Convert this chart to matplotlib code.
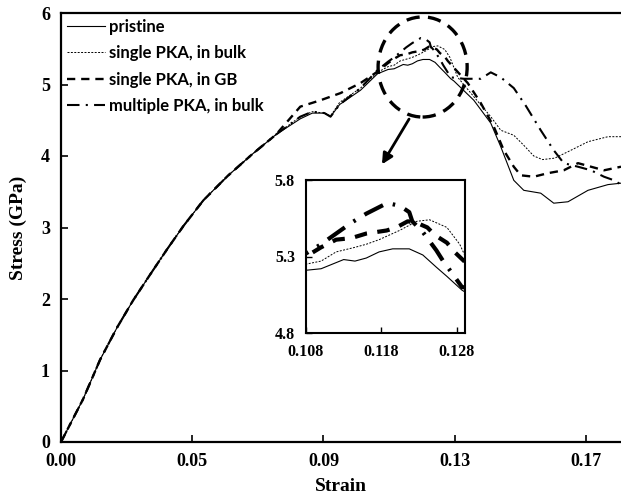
import matplotlib
matplotlib.use("Agg")
import matplotlib.pyplot as plt
from matplotlib.patches import Ellipse

# Stress-strain curves (strain, stress in GPa)
loading_strain = [0.0, 0.0073, 0.0129, 0.0185, 0.0238, 0.0294, 0.0351, 0.0404, 0.047, 0.055, 0.063, 0.071]
loading_stress = [0.0, 0.60, 1.15, 1.60, 1.98, 2.34, 2.70, 3.02, 3.38, 3.72, 4.02, 4.30]

pristine_strain = [0.079, 0.083, 0.087, 0.089, 0.092, 0.0989, 0.1045,
                   0.108, 0.110, 0.1115, 0.113, 0.1145, 0.116, 0.1177, 0.1195, 0.1217, 0.1235,
                   0.1253, 0.1267, 0.1287, 0.1297, 0.1363, 0.1419, 0.1452, 0.1495, 0.1528,
                   0.1584, 0.1627, 0.1674, 0.174, 0.1806, 0.1849]
pristine_stress = [4.52, 4.60, 4.60, 4.55, 4.72, 4.92, 5.15,
                   5.21, 5.22, 5.25, 5.28, 5.27, 5.29, 5.33, 5.35, 5.35, 5.31,
                   5.23, 5.17, 5.08, 5.05, 4.78, 4.46, 4.13, 3.66, 3.52,
                   3.48, 3.34, 3.36, 3.52, 3.60, 3.62]

bulk_strain = [0.079, 0.083, 0.087, 0.089, 0.092, 0.0989, 0.1045,
               0.108, 0.110, 0.112, 0.1145, 0.116, 0.1177, 0.1204, 0.1227, 0.1244, 0.1267,
               0.1284, 0.131, 0.1363, 0.1419, 0.1452, 0.1495, 0.1528, 0.1561, 0.159,
               0.163, 0.1674, 0.174, 0.1806, 0.1849]
bulk_stress = [4.55, 4.62, 4.60, 4.56, 4.75, 4.95, 5.17,
               5.25, 5.27, 5.33, 5.36, 5.38, 5.41, 5.47, 5.53, 5.54, 5.49,
               5.38, 5.10, 4.83, 4.55, 4.36, 4.29, 4.15, 4.00, 3.95,
               3.97, 4.06, 4.20, 4.27, 4.27]

gb_strain = [0.079, 0.0857, 0.0923, 0.0989, 0.1045,
             0.108, 0.110, 0.112, 0.114, 0.116, 0.1187, 0.120, 0.1215, 0.1227, 0.1241,
             0.1251, 0.1267, 0.1277, 0.1343, 0.1386, 0.1429, 0.1462, 0.1495, 0.1518,
             0.1561, 0.1608, 0.166, 0.1707, 0.175, 0.1793, 0.1849]
gb_stress = [4.69, 4.78, 4.88, 5.02, 5.18,
             5.30, 5.36, 5.41, 5.42, 5.45, 5.47, 5.49, 5.53, 5.52, 5.49,
             5.44, 5.39, 5.33, 5.02, 4.74, 4.41, 4.08, 3.85, 3.73,
             3.71, 3.76, 3.80, 3.90, 3.85, 3.80, 3.85]

multi_strain = [0.079, 0.083, 0.087, 0.089, 0.092, 0.0989, 0.1045,
                0.108, 0.110, 0.112, 0.114, 0.116, 0.1188, 0.1205, 0.1217, 0.1221, 0.1235,
                0.1253, 0.1262, 0.1271, 0.1287, 0.133, 0.1386, 0.1419, 0.1452, 0.1495,
                0.1535, 0.1584, 0.1627, 0.166, 0.1707, 0.175, 0.1793, 0.1826, 0.1849]
multi_stress = [4.55, 4.62, 4.60, 4.55, 4.72, 4.95, 5.20,
                5.32, 5.38, 5.45, 5.52, 5.58, 5.65, 5.63, 5.59, 5.53, 5.46,
                5.34, 5.27, 5.21, 5.10, 5.08, 5.08, 5.17, 5.10, 4.95,
                4.70, 4.36, 4.08, 3.90, 3.85, 3.80, 3.71, 3.66, 3.60]

labels = ["pristine", "single PKA, in bulk", "single PKA, in GB", "multiple PKA, in bulk"]
xtick_pos = [0.0, 0.13 / 3, 0.26 / 3, 0.13, 0.52 / 3]
xtick_lbl = ["0.00", "0.05", "0.09", "0.13", "0.17"]
inset_xticks = [0.108, 0.118, 0.128]
inset_yticks = [4.8, 5.3, 5.8]

serif = "Liberation Serif"

curves = [
    (loading_strain + pristine_strain, loading_stress + pristine_stress),
    (loading_strain + bulk_strain, loading_stress + bulk_stress),
    (loading_strain + gb_strain, loading_stress + gb_stress),
    (loading_strain + multi_strain, loading_stress + multi_stress),
]
main_style = [
    dict(ls="-", lw=0.8),
    dict(ls=(0, (2, 1.5)), lw=0.7),
    dict(ls=(0, (3.5, 2.5)), lw=1.7),
    dict(ls=(0, (6, 3, 1, 3)), lw=1.5),
]
inset_style = [
    dict(ls="-", lw=0.8),
    dict(ls=(0, (2, 1.5)), lw=0.7),
    dict(ls=(0, (3, 2.5)), lw=3.0),
    dict(ls=(0, (5, 2.5, 0.6, 2.5)), lw=3.0),
]

fig = plt.figure(figsize=(6.21, 4.99), dpi=100)
ax = fig.add_axes([61 / 621, 1 - 442 / 499, 560 / 621, 429 / 499])

for (x, y), st, lab in zip(curves, main_style, labels):
    ax.plot(x, y, color="black", label=lab, **st)

ax.set_xlim(0, 0.1849)
ax.set_ylim(0, 6)
ax.set_xticks(xtick_pos)
ax.set_xticklabels(xtick_lbl)
ax.set_yticks(range(7))
ax.tick_params(direction="in", length=5, width=1.2, pad=8)
for t in ax.get_xticklabels() + ax.get_yticklabels():
    t.set_fontfamily(serif)
    t.set_fontweight("bold")
    t.set_fontsize(13)
for s in ["left", "bottom", "top"]:
    ax.spines[s].set_linewidth(1.6)
ax.spines["right"].set_visible(False)

ax.set_xlabel("Strain", family=serif, weight="bold", fontsize=14, labelpad=6)
ax.set_ylabel("Stress (GPa)", family=serif, weight="bold", fontsize=14, labelpad=10)

leg = ax.legend(loc="upper left", frameon=False, handlelength=2.3, handletextpad=0.25,
                labelspacing=0.62, borderaxespad=0.15, borderpad=0.2,
                prop=dict(family="Lato", weight="bold", size=12))

# dashed circle around the peak region and arrow down to the inset
ax.add_patch(Ellipse((0.1194, 5.245), 0.0294, 1.40, fill=False, color="black",
                     lw=2.4, ls=(0, (4, 2.5))))
ax.annotate("", xy=(0.1055, 3.85), xytext=(0.1154, 4.55),
            arrowprops=dict(arrowstyle="-|>", lw=2, color="black", mutation_scale=16))

# zoomed inset
axi = fig.add_axes([306 / 621, 1 - 333 / 499, 159 / 621, 153 / 499])
for (x, y), st in zip(curves, inset_style):
    axi.plot(x, y, color="black", **st)
axi.set_xlim(0.108, 0.1291)
axi.set_ylim(4.8, 5.8)
axi.set_xticks(inset_xticks)
axi.set_xticklabels(["0.108", "0.118", "0.128"])
axi.set_yticks(inset_yticks)
axi.set_yticklabels(["4.8", "5.3", "5.8"])
axi.tick_params(direction="in", length=4, width=1, pad=8)
for t in axi.get_xticklabels() + axi.get_yticklabels():
    t.set_fontfamily(serif)
    t.set_fontweight("bold")
    t.set_fontsize(11.5)
for s in axi.spines.values():
    s.set_linewidth(1.5)

fig.savefig("out.png", dpi=100)
